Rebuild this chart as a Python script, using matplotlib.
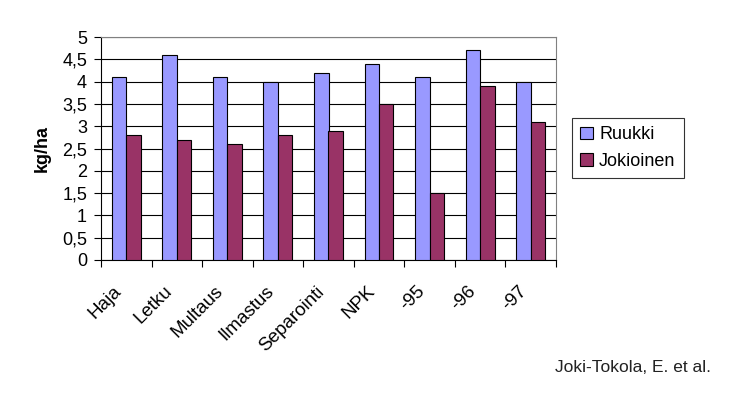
import matplotlib
matplotlib.use("Agg")
import matplotlib.pyplot as plt
import matplotlib.transforms as mtransforms
import numpy as np

plt.rcParams['font.family'] = ['Liberation Sans', 'DejaVu Sans']

categories = ["Haja", "Letku", "Multaus", "Ilmastus", "Separointi", "NPK", "-95", "-96", "-97"]
ruukki = [4.1, 4.6, 4.1, 4.0, 4.2, 4.4, 4.1, 4.7, 4.0]
jokioinen = [2.8, 2.7, 2.6, 2.8, 2.9, 3.5, 1.5, 3.9, 3.1]
yticks = [0, 0.5, 1, 1.5, 2, 2.5, 3, 3.5, 4, 4.5, 5]
ytick_labels = ["0", "0,5", "1", "1,5", "2", "2,5", "3", "3,5", "4", "4,5", "5"]

fig = plt.figure(figsize=(7.29, 3.99), dpi=100)
W, H = 729, 399
left, right, top, bottom = 101, 556, 37, 260
ax = fig.add_axes([left / W, 1 - bottom / H, (right - left) / W, (bottom - top) / H])

x = np.arange(len(categories))
bw = 1 / 3.5
ax.bar(x - bw / 2, ruukki, width=bw, color="#9999FF", edgecolor="black", linewidth=0.8, label="Ruukki", zorder=3)
ax.bar(x + bw / 2, jokioinen, width=bw, color="#993366", edgecolor="black", linewidth=0.8, label="Jokioinen", zorder=3)

ax.set_xlim(-0.5, len(categories) - 0.5)
ax.set_ylim(0, 5)
ax.set_yticks(yticks)
ax.set_yticklabels(ytick_labels, fontsize=13)
ax.yaxis.grid(True, color="black", linewidth=0.8, zorder=0)
ax.set_axisbelow(True)

ax.set_xticks(np.arange(len(categories) + 1) - 0.5)
ax.set_xticklabels([])
ax.tick_params(axis="x", which="major", length=5, width=0.8, direction="out")
ax.tick_params(axis="y", length=5, width=0.8, direction="out", pad=5)

# category labels placed below each category centre
base = mtransforms.blended_transform_factory(ax.transData, ax.transAxes)
offset = mtransforms.ScaledTranslation(-13 / 100, -23 / 100, fig.dpi_scale_trans)
for xi, name in zip(x, categories):
    ax.text(xi, 0, name, transform=base + offset, rotation=45, ha="right", va="top",
            rotation_mode="anchor", fontsize=13.5, clip_on=False)

ax.spines["top"].set_color("#808080")
ax.spines["right"].set_color("#808080")
ax.spines["left"].set_color("black")
ax.spines["bottom"].set_color("black")
for s in ax.spines.values():
    s.set_linewidth(0.8)

ax.set_ylabel("kg/ha", fontsize=13, fontweight="bold", labelpad=8)

leg = ax.legend(loc="center left", bbox_to_anchor=(572 / W, 1 - 148 / H), bbox_transform=fig.transFigure,
                fontsize=13, frameon=True, fancybox=False, edgecolor="black", handlelength=0.7,
                handleheight=0.7, handletextpad=0.35, borderpad=0.45, labelspacing=0.5,
                borderaxespad=0)
leg.get_frame().set_linewidth(0.8)

fig.text(555 / W, 1 - 367 / H, "Joki-Tokola, E. et al.", fontsize=12.5, va="center", ha="left", color="#222222")

fig.savefig("out.png", dpi=100)
